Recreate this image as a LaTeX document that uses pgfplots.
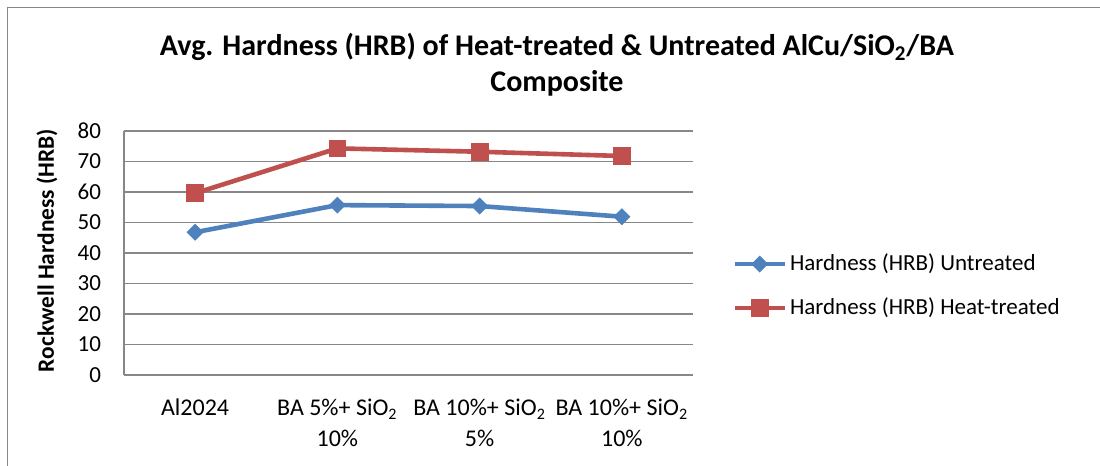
\documentclass[border=0pt]{standalone}
\usepackage{fontspec}
\setmainfont{Carlito}
\usepackage{pgfplots}
\pgfplotsset{compat=1.18}

\definecolor{serA}{HTML}{4F81BD}
\definecolor{serB}{HTML}{C0504D}
\definecolor{gridc}{HTML}{878787}

\begin{document}
\begin{tikzpicture}
\useasboundingbox (0pt,0pt) rectangle (550pt,233pt);
% chart area border
\draw[gridc, line width=0.75pt] (3.75pt,-3pt) -- (3.75pt,229.25pt) -- (553pt,229.25pt);
% chart title
\node[font=\bfseries\fontsize{15}{18}\selectfont, align=center] at (278.5pt,200.5pt)
  {Avg. Hardness (HRB) of Heat-treated \& Untreated AlCu/SiO\textsubscript{2}/BA\\Composite};

\begin{axis}[
  at={(62pt,45.5pt)}, anchor=south west,
  scale only axis, width=284.5pt, height=122pt,
  xmin=-0.5, xmax=3.5, ymin=0, ymax=80,
  ytick={0,10,...,80},
  xtick={0,1,2,3},
  xticklabels={Al2024,
               {BA 5\%+ SiO\textsubscript{2}\\10\%},
               {BA 10\%+ SiO\textsubscript{2}\\5\%},
               {BA 10\%+ SiO\textsubscript{2}\\10\%}},
  axis x line=bottom, axis y line=left,
  axis line style={-, gridc, line width=0.75pt},
  major tick length=0pt,
  ymajorgrids, grid style={gridc, line width=0.75pt},
  /pgf/number format/assume math mode=true,
  yticklabel style={font=\fontsize{11.5}{13}\selectfont, xshift=-8pt},
  xticklabel style={font=\fontsize{12}{15.5}\selectfont, align=center, yshift=-8.5pt},
  ylabel={Rockwell Hardness (HRB)},
  ylabel style={font=\bfseries\fontsize{11.7}{13}\selectfont,
                at={(rel axis cs:-0.1353,0.51)}, anchor=center},
  legend style={at={(rel axis cs:1.0686,0.365)}, anchor=west,
                draw=none, fill=none, inner sep=0pt,
                font=\fontsize{11.5}{13}\selectfont, row sep=8pt,
                nodes={inner xsep=1.5pt}},
  legend cell align=left,
  legend image code/.code={
    \draw[#1, mark repeat=2, mark phase=2]
      plot coordinates {(0pt,0pt) (12.5pt,0pt) (25pt,0pt)};},
]
\addplot[serA, line width=2.3pt, mark=square*,
  mark options={solid, rotate=45, line width=0.4pt}, mark size=2.8pt]
  coordinates {(0,46.8) (1,55.7) (2,55.4) (3,51.9)};
\addlegendentry{Hardness (HRB) Untreated}
\addplot[serB, line width=2.3pt, mark=square*,
  mark options={solid, line width=0.4pt}, mark size=4.2pt]
  coordinates {(0,59.6) (1,74.3) (2,73.2) (3,71.8)};
\addlegendentry{Hardness (HRB) Heat-treated}
\end{axis}
\end{tikzpicture}
\end{document}
